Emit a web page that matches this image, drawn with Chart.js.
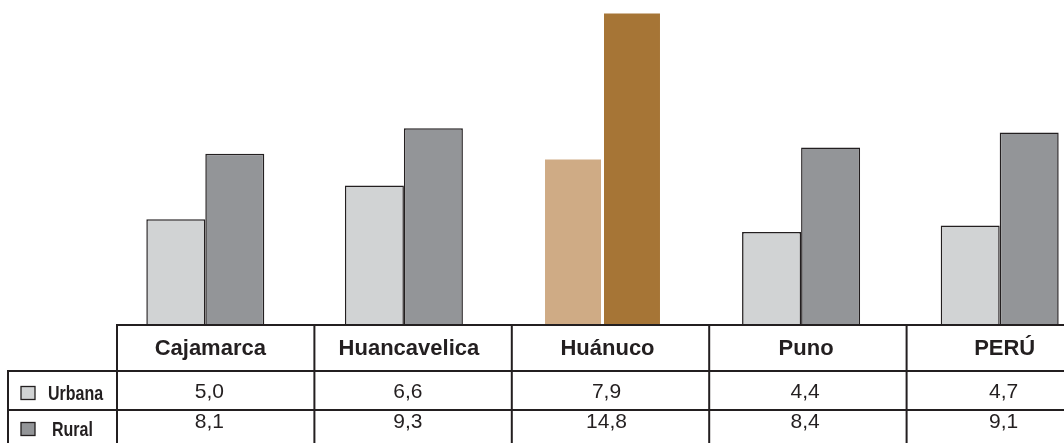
<!DOCTYPE html>
<html>
<head>
<meta charset="utf-8">
<script src="https://cdn.jsdelivr.net/npm/chart.js@4"></script>
<style>
  html, body { margin: 0; padding: 0; background: #ffffff; overflow: hidden; width: 1064px; height: 443px; }
  #wrap { width: 1100px; height: 443px; position: relative; }
</style>
</head>
<body>
<div id="wrap"><canvas id="c"></canvas></div>
<script>
// ---- data ----
const categories = ['Cajamarca', 'Huancavelica', 'Huánuco', 'Puno', 'PERÚ'];
const seriesNames = ['Urbana', 'Rural'];
const urbana = [5.0, 6.6, 7.9, 4.4, 4.7];
const rural = [8.1, 9.3, 14.8, 8.4, 9.1];
const highlightIndex = 2;

// ---- styles ----
const LINE = '#231f20';
const urbanaColor = '#d1d3d4';
const ruralColor = '#939598';
const urbanaHi = '#cfab85';
const ruralHi = '#a67536';

const fmt = v => v.toFixed(1).replace('.', ',');

const urbanaFill = categories.map((_, i) => i === highlightIndex ? urbanaHi : urbanaColor);
const ruralFill = categories.map((_, i) => i === highlightIndex ? ruralHi : ruralColor);
const borders = categories.map((_, i) => i === highlightIndex ? 'rgba(0,0,0,0)' : LINE);

const tablePlugin = {
  id: 'dataTable',
  afterDraw(chart) {
    const ctx = chart.ctx;
    const xs = chart.scales.x;
    const area = chart.chartArea;
    const n = categories.length;
    const cw = (area.right - area.left) / n;
    const colOffset = 11;
    const yHead = area.bottom;       // 325
    const yRow1 = 371;
    const yRow2 = 410;
    const yEnd = 445;
    const labelLeft = 8;
    const bounds = [];
    for (let i = 0; i <= n; i++) bounds.push(area.left + i * cw + colOffset - i * 1.2);

    ctx.save();
    ctx.strokeStyle = LINE;
    ctx.lineWidth = 2;
    ctx.beginPath();
    // header top / baseline
    ctx.moveTo(bounds[0] - 1, yHead); ctx.lineTo(1100, yHead);
    // row lines
    ctx.moveTo(labelLeft - 1, yRow1); ctx.lineTo(1100, yRow1);
    ctx.moveTo(labelLeft - 1, yRow2); ctx.lineTo(1100, yRow2);
    // label column left
    ctx.moveTo(labelLeft, yRow1); ctx.lineTo(labelLeft, yEnd);
    // column lines
    for (let i = 0; i < n; i++) {
      ctx.moveTo(bounds[i], yHead - 1); ctx.lineTo(bounds[i], yEnd);
    }
    ctx.stroke();

    // header texts
    ctx.fillStyle = LINE;
    ctx.textAlign = 'center';
    ctx.textBaseline = 'middle';
    ctx.font = "bold 22px 'Liberation Sans', Arial, sans-serif";
    categories.forEach((c, i) => {
      ctx.fillText(c, xs.getPixelForValue(i) + 5, 349);
    });

    // values
    ctx.font = "21px 'Liberation Sans', Arial, sans-serif";
    urbana.forEach((v, i) => ctx.fillText(fmt(v), xs.getPixelForValue(i) + 4, 392));
    rural.forEach((v, i) => ctx.fillText(fmt(v), xs.getPixelForValue(i) + 4, 422));

    // legend labels in first column
    const rows = [
      { name: seriesNames[0], fill: urbanaColor, y: 393, tx: 48 },
      { name: seriesNames[1], fill: ruralColor, y: 429, tx: 52 }
    ];
    rows.forEach(r => {
      ctx.fillStyle = r.fill;
      ctx.fillRect(21, r.y - 6.5, 14, 13);
      ctx.lineWidth = 1.3;
      ctx.strokeStyle = LINE;
      ctx.strokeRect(21, r.y - 6.5, 14, 13);
      ctx.save();
      ctx.translate(r.tx, r.y + 1);
      ctx.scale(0.8, 1);
      ctx.fillStyle = LINE;
      ctx.textAlign = 'left';
      ctx.font = "bold 20px 'Liberation Sans', Arial, sans-serif";
      ctx.fillText(r.name, 0, 0);
      ctx.restore();
    });
    ctx.restore();
  }
};

new Chart(document.getElementById('c'), {
  type: 'bar',
  data: {
    labels: categories,
    datasets: [
      { label: seriesNames[0], data: urbana, backgroundColor: urbanaFill, borderColor: borders, borderWidth: 1.5, borderSkipped: 'start' },
      { label: seriesNames[1], data: rural, backgroundColor: ruralFill, borderColor: borders, borderWidth: 1.5, borderSkipped: 'start' }
    ]
  },
  options: {
    responsive: true,
    maintainAspectRatio: false,
    animation: false,
    devicePixelRatio: 1,
    layout: { padding: { left: 106, right: 1, top: 0, bottom: 118 } },
    datasets: { bar: { categoryPercentage: 0.594, barPercentage: 1.0 } },
    scales: {
      x: { display: false },
      y: { display: false, min: 0, max: 15.37 }
    },
    plugins: { legend: { display: false }, tooltip: { enabled: false } }
  },
  plugins: [tablePlugin]
});
</script>
</body>
</html>
